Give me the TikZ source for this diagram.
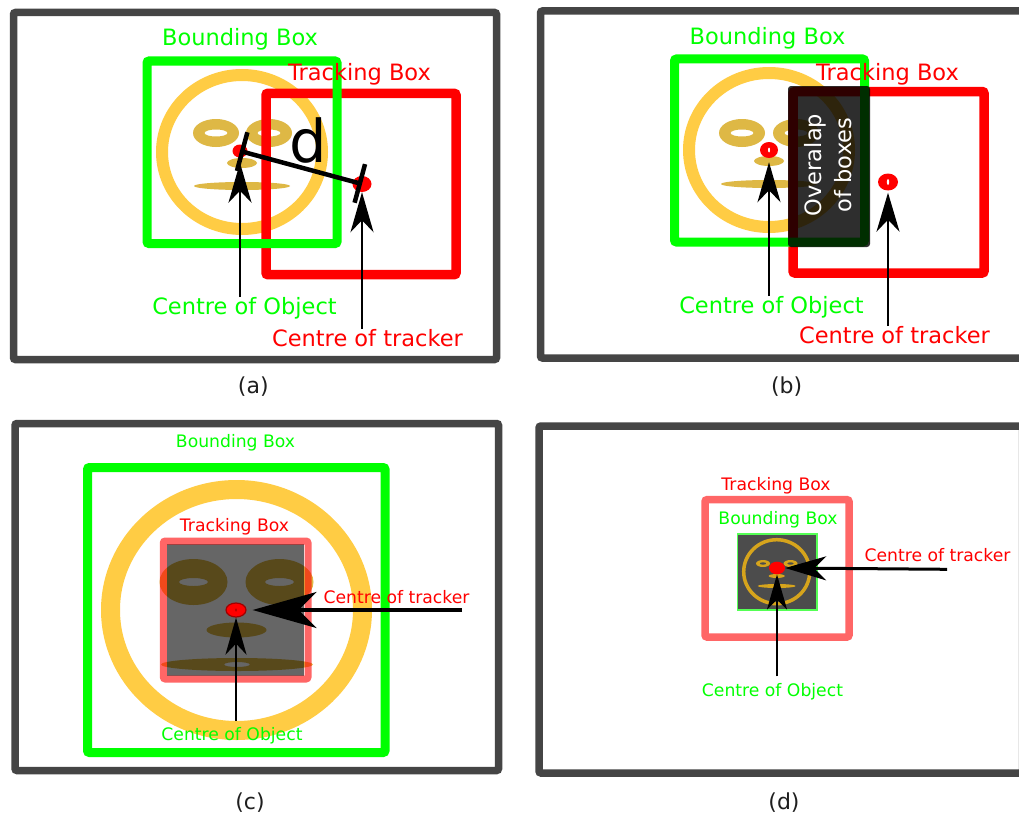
\documentclass[tikz,border=0pt]{standalone}
\usepackage{fontspec}
\setmainfont{DejaVu Sans}
\usetikzlibrary{arrows.meta,shapes.geometric}

\definecolor{framegray}{HTML}{454545}
\definecolor{bbgreen}{HTML}{00FF00}
\definecolor{tbred}{HTML}{FF0000}
\definecolor{facering}{HTML}{FFCC44}
\definecolor{facepart}{HTML}{DEB845}
\definecolor{darkgold}{HTML}{D6A41C}
\definecolor{lightgreen}{HTML}{55FF55}
\definecolor{dotedge}{HTML}{A00000}

\tikzset{
  panelframe/.style={draw=framegray, line width=7.5pt, rounded corners=2pt},
  greenbox/.style={draw=bbgreen, line width=#1, rounded corners=2pt},
  redbox/.style={draw=tbred, line width=#1, rounded corners=2pt},
  biglabel/.style={font=\fontsize{22.5}{30}\selectfont, inner sep=0pt, anchor=base},
  smalllabel/.style={font=\fontsize{17.2}{21}\selectfont, inner sep=0pt, anchor=base},
  caption/.style={font=\fontsize{22}{26}\selectfont, text=black!88, inner sep=0pt},
  reddot/.style={ellipse, fill=tbred, inner sep=0pt},
  pointer/.style n args={4}{draw=black, line width=#1,
    -{Stealth[length=#2, width=#3, inset=#4]}},
}

\begin{document}
\begin{tikzpicture}[x=1pt,y=-1pt]
\useasboundingbox (0,0) rectangle (1019,816);
\clip (0,0) rectangle (1019,816);
\fill[white] (0,0) rectangle (1019,816);

% ================= (a) : distance between centres =================
\draw[panelframe] (13.5,12.5) rectangle (496.5,359.5);
% face
\draw[facering, line width=12pt] (242,152) ellipse [x radius=80pt, y radius=77pt];
\fill[facepart, even odd rule] (216,133) ellipse [x radius=23pt, y radius=14pt]
  (216,133) ellipse [x radius=11.5pt, y radius=3.5pt];
\fill[facepart, even odd rule] (269,133) ellipse [x radius=23pt, y radius=14pt]
  (269,133) ellipse [x radius=11.5pt, y radius=3.5pt];
\fill[facepart] (242,163) ellipse [x radius=15pt, y radius=5pt];
\fill[facepart] (242,186) ellipse [x radius=48pt, y radius=4pt];
% boxes
\draw[redbox=9.5pt] (266,93.3) rectangle (456,274.7);
\draw[greenbox=9pt] (147,61) rectangle (337,243.5);
% centres
\node[reddot, minimum width=15pt, minimum height=13pt] (oA) at (240,151) {};
\node[reddot, minimum width=19pt, minimum height=16pt] (tA) at (362,184) {};
\draw[line width=4.5pt, {Bar[width=40pt]}-{Bar[width=40pt]}] (oA.center) -- (tA.center);
\node[font=\fontsize{59}{60}\selectfont, inner sep=0pt, anchor=base] (dA) at (308,162) {d};
% labels
\node[biglabel, text=bbgreen] (bbA) at (240,45.5) {Bounding Box};
\node[biglabel, text=tbred] (tbA) at (359.5,81) {Tracking Box};
\node[biglabel, text=bbgreen] (coA) at (244.5,314.3) {Centre of Object};
\node[biglabel, text=tbred] (ctA) at (367.5,346) {Centre of tracker};
\draw[pointer={2.5pt}{40pt}{23pt}{12pt}, shorten >=5pt] (oA |- coA.north) -- (oA.south);
\draw[pointer={2.5pt}{40pt}{23pt}{12pt}] (tA |- ctA.north) -- (tA.south);
\node[caption] (capA) at (253.3,386.7) {(a)};

% ================= (b) : overlap of boxes =================
\draw[panelframe] (540.5,11) rectangle (1024,358);
\draw[facering, line width=12pt] (769,150) ellipse [x radius=80pt, y radius=77pt];
\fill[facepart, even odd rule] (742,133) ellipse [x radius=23pt, y radius=14pt]
  (742,133) ellipse [x radius=11.5pt, y radius=3.5pt];
\fill[facepart, even odd rule] (796,133) ellipse [x radius=23pt, y radius=14pt]
  (796,133) ellipse [x radius=11.5pt, y radius=3.5pt];
\fill[facepart] (769,161) ellipse [x radius=15pt, y radius=5pt];
\fill[facepart] (769,184) ellipse [x radius=48pt, y radius=4pt];
\draw[redbox=9.5pt] (793,91.5) rectangle (984,273);
\draw[greenbox=9pt] (674.5,59) rectangle (864.5,242);
\fill[black, fill opacity=0.82, rounded corners=3pt] (788,86) rectangle (870,247);
\node[text=white, rotate=90, align=center, inner sep=0pt,
      font=\fontsize{22.5}{30}\selectfont] (ovB) at (828,165) {Overalap\\of boxes};
\node[reddot, minimum width=18pt, minimum height=16pt] (oB) at (769,150) {};
\node[reddot, minimum width=20pt, minimum height=17pt] (tB) at (888,182) {};
\fill[white] (oB.center) ellipse [x radius=1pt, y radius=2.5pt];
\fill[white] (tB.center) ellipse [x radius=1.2pt, y radius=3pt];
\node[biglabel, text=bbgreen] (bbB) at (767.5,44.3) {Bounding Box};
\node[biglabel, text=tbred] (tbB) at (887.5,80) {Tracking Box};
\node[biglabel, text=bbgreen] (coB) at (771.5,313.3) {Centre of Object};
\node[biglabel, text=tbred] (ctB) at (894.5,343.3) {Centre of tracker};
\draw[pointer={2.5pt}{40pt}{23pt}{12pt}, shorten >=4pt] (oB |- coB.north) -- (oB.south);
\draw[pointer={2.5pt}{39pt}{23pt}{12pt}, shorten >=2pt] (tB |- ctB.north) -- (tB.south);
\node[caption] (capB) at (786.7,386.7) {(b)};

% ================= (c) : tracking box inside bounding box =================
\draw[panelframe] (15,423.5) rectangle (498.5,770.5);
\draw[greenbox=9pt] (87.5,467.5) rectangle (385,752.5);
\draw[facering, line width=19pt] (236.5,610) ellipse [x radius=126pt, y radius=120.5pt];
\fill[facepart, even odd rule] (193.5,582) ellipse [x radius=34pt, y radius=23pt]
  (193.5,582) ellipse [x radius=14.5pt, y radius=4pt];
\fill[facepart, even odd rule] (279.5,582) ellipse [x radius=34pt, y radius=23pt]
  (279.5,582) ellipse [x radius=14.5pt, y radius=4pt];
\fill[facepart] (236.5,630) ellipse [x radius=30pt, y radius=7.5pt];
\fill[facepart, even odd rule] (237,664.5) ellipse [x radius=76pt, y radius=6.5pt]
  (237,664.5) ellipse [x radius=13pt, y radius=2.5pt];
\fill[black, fill opacity=0.6] (166.7,544.3) rectangle (304.3,675.7);
\draw[redbox=7pt, draw opacity=0.6] (163.3,541) rectangle (308,679);
\node[reddot, draw=dotedge, line width=1.2pt, minimum width=20pt, minimum height=14pt] (oC) at (236,610) {};
\fill[dotedge] (oC.center) ellipse [x radius=0.8pt, y radius=1.8pt];
\coordinate (tCfree) at (462,610);
\node[smalllabel, text=bbgreen] (bbC) at (235.5,447.3) {Bounding Box};
\node[smalllabel, text=tbred] (tbC) at (234.5,531.7) {Tracking Box};
\node[smalllabel, text=tbred] (ctC) at (396.5,603.3) {Centre of tracker};
\node[smalllabel, text=bbgreen] (coC) at (232,740) {Centre of Object};
\draw[pointer={4pt}{64pt}{36pt}{18pt}, shorten >=6pt] (tCfree) -- (oC.east);
\draw[pointer={2.5pt}{37pt}{21pt}{11pt}, shorten <=6pt] (oC |- coC.north) -- (oC.south);
\node[caption] (capC) at (250,803) {(c)};

% ================= (d) : bounding box inside tracking box =================
\draw[panelframe] (539,426) rectangle (1022.5,773);
\draw[redbox=7.5pt, draw opacity=0.6] (705,499.7) rectangle (849,637);
\filldraw[fill=black, fill opacity=0.7, draw=lightgreen, line width=1.5pt] (737.5,534) rectangle (817,610);
\draw[darkgold, line width=3.5pt] (776.7,571.7) ellipse [x radius=33pt, y radius=32pt];
\fill[darkgold, even odd rule] (763,563.5) ellipse [x radius=7pt, y radius=3.5pt]
  (763,563.5) ellipse [x radius=3.5pt, y radius=1.2pt];
\fill[darkgold, even odd rule] (790.5,563.5) ellipse [x radius=7pt, y radius=3.5pt]
  (790.5,563.5) ellipse [x radius=3.5pt, y radius=1.2pt];
\fill[darkgold] (776.7,576) ellipse [x radius=8pt, y radius=2pt];
\fill[darkgold] (776.7,586) ellipse [x radius=19pt, y radius=2pt];
\node[reddot, minimum width=16pt, minimum height=12.6pt] (oD) at (777,568) {};
\coordinate (tDfree) at (947,569.3);
\node[smalllabel, text=tbred] (tbD) at (776,490) {Tracking Box};
\node[smalllabel, text=bbgreen] (bbD) at (778,524.3) {Bounding Box};
\node[smalllabel, text=tbred] (ctD) at (937.5,561.7) {Centre of tracker};
\node[smalllabel, text=bbgreen] (coD) at (772.5,696.7) {Centre of Object};
\draw[pointer={3pt}{41pt}{24pt}{12pt}] (tDfree) -- (oD.east);
\draw[pointer={2.5pt}{35pt}{20pt}{10pt}, shorten <=7pt] (oD |- coD.north) -- (oD.south);
\node[caption] (capD) at (784,803) {(d)};
\end{tikzpicture}
\end{document}
